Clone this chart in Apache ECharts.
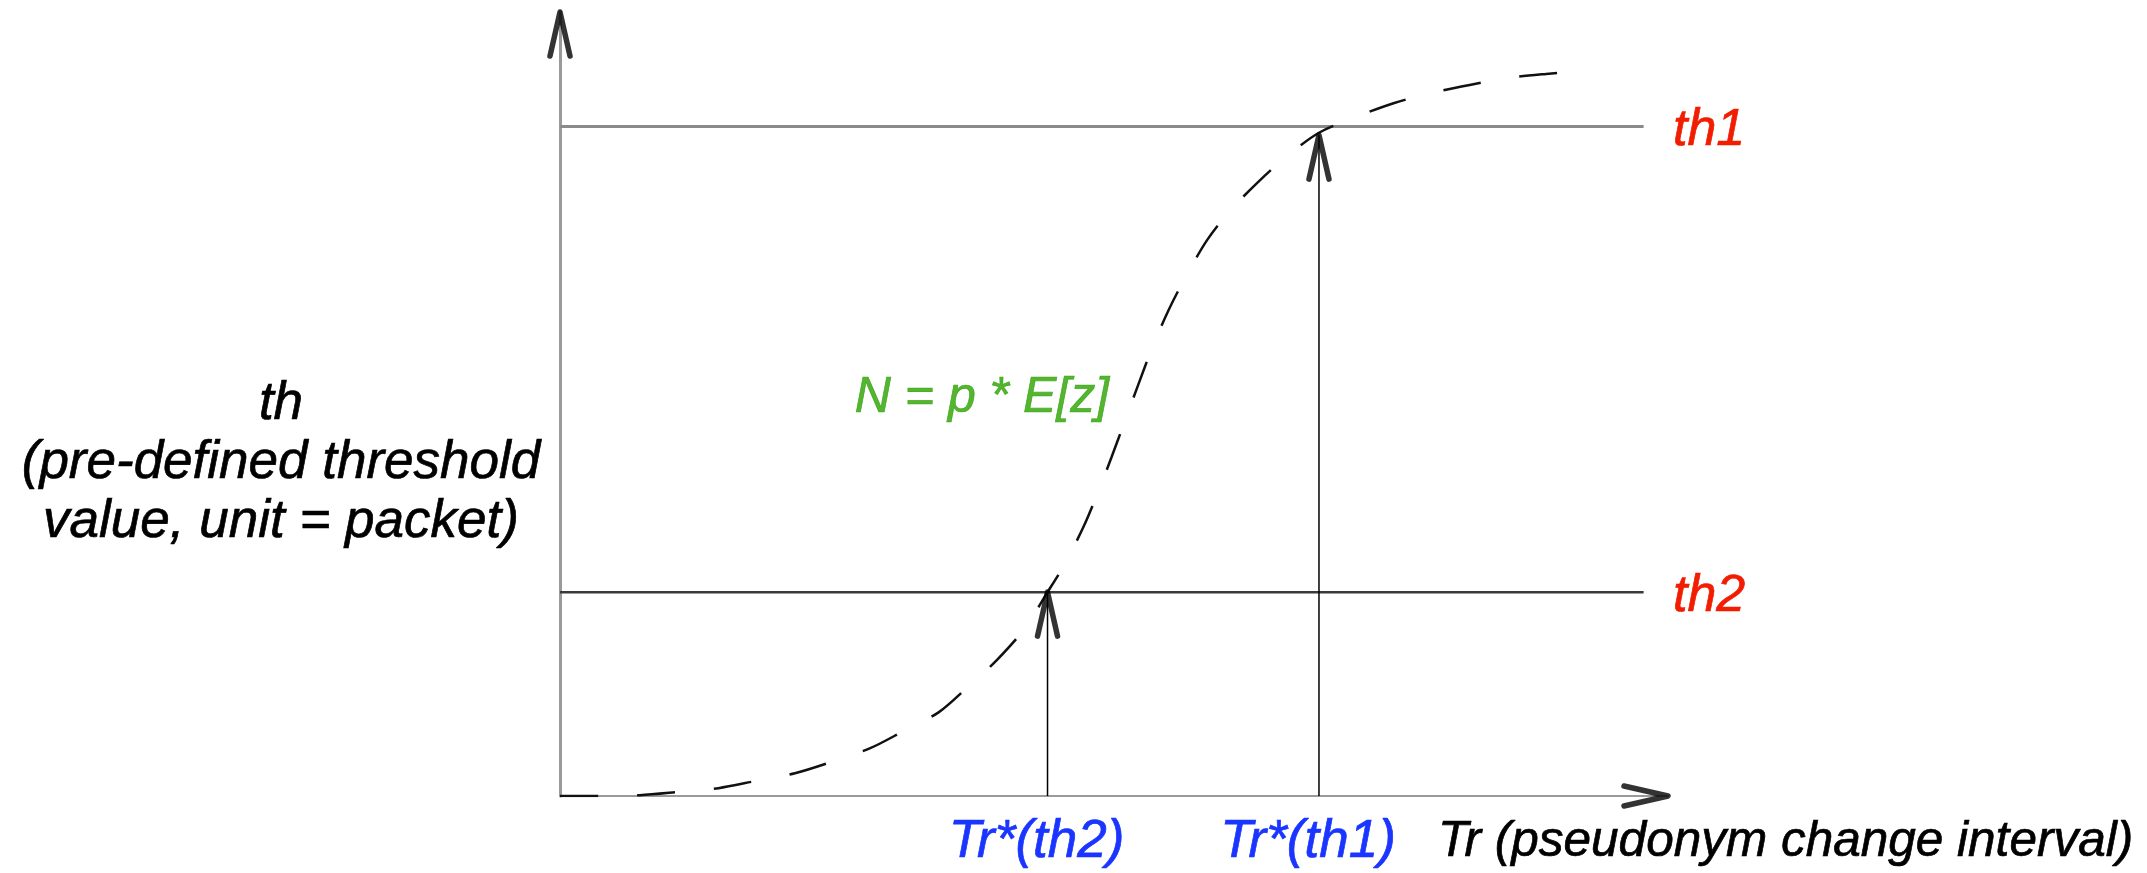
<!DOCTYPE html>
<html>
<head>
<meta charset="utf-8">
<script src="https://cdn.jsdelivr.net/npm/echarts@6/dist/echarts.min.js"></script>
<style>
  html, body { margin: 0; padding: 0; background: #ffffff; }
  #chart { width: 2147px; height: 873px; }
</style>
</head>
<body>
<div id="chart"></div>
<script>
// Axis extents (Tr horizontally, th vertically), arbitrary units
const trMax = 100;
const thMax = 100;

// Pre-defined thresholds
const thresholdNames = ['th2', 'th1'];
const thresholdValues = [26.0, 85.4];
const thresholdSpan = [0, 97.8];

// Tr values at which N reaches each threshold, and where their arrows stop
const crossingNames = ['Tr*(th2)', 'Tr*(th1)'];
const crossingTr = [44.0, 68.5];
const crossingTipTh = [26.0, 84.3];

// N = p * E[z] versus Tr
const curveTr = [0, 3.6, 7.2, 10.6, 14.3, 17.6, 21.2, 24.4, 28.0, 30.9, 34.2, 36.8, 39.4, 41.9,
  44.0, 45.6, 47.3, 48.6, 49.8, 51.0, 52.2, 53.4, 54.9, 56.5, 58.4, 60.5, 63.0, 65.6, 68.5,
  71.8, 75.3, 78.7, 82.1, 85.6, 89.0, 92.6];
const curveN = [0, 0.0, 0.1, 0.5, 1.0, 1.9, 2.9, 4.3, 6.1, 8.2, 10.7, 13.9, 17.3, 21.3,
  26.0, 29.7, 34.5, 38.9, 43.3, 47.9, 52.5, 57.0, 61.9, 66.3, 70.9, 74.7, 78.3, 81.6, 84.6,
  86.6, 88.4, 89.7, 90.7, 91.6, 92.1, 92.5];

// Where the curve's name is written
const formulaText = 'N = p * E[z]';
const formulaAnchor = [49.6, 50.8];

const FONT = "'Liberation Sans', Arial, Helvetica, sans-serif";
const UP_CHEVRON = 'path://M0,44 L10,0 L20,44';
const RIGHT_CHEVRON = 'path://M0,0 L44,10 L0,20';

// Italic text with a hairline outline in its own colour for a slightly heavier stroke
function italic(color, size, extra) {
  return Object.assign({
    color: color,
    fontFamily: FONT,
    fontStyle: 'italic',
    fontSize: size,
    textBorderColor: color,
    textBorderWidth: 0.7
  }, extra || {});
}

const thresholdStyle = {
  th1: { color: '#8a8a8a', width: 3 },
  th2: { color: '#3a3a3a', width: 2.5 }
};

const series = [];

// Horizontal threshold lines
thresholdNames.forEach(function (name, i) {
  series.push({
    type: 'line',
    name: name,
    data: thresholdSpan.map(function (x) { return [x, thresholdValues[i]]; }),
    symbol: 'none',
    silent: true,
    lineStyle: { color: thresholdStyle[name].color, width: thresholdStyle[name].width, type: 'solid' },
    z: 2
  });
});

// Arrow shafts from the Tr axis up to each threshold
crossingNames.forEach(function (name, i) {
  series.push({
    type: 'line',
    name: name,
    data: [[crossingTr[i], 0], [crossingTr[i], crossingTipTh[i]]],
    symbol: 'none',
    silent: true,
    lineStyle: { color: '#000000', width: 1.5 },
    z: 3
  });
});

// The dashed N curve
series.push({
  type: 'line',
  name: formulaText,
  data: curveTr.map(function (x, i) { return [x, curveN[i]]; }),
  symbol: 'none',
  smooth: 0.3,
  silent: true,
  lineStyle: { color: '#111111', width: 2.5, type: [38, 39], cap: 'butt' },
  z: 4
});

// Open arrowheads pointing up: top of the th axis and the two crossing arrows
const chevronStyle = {
  color: 'rgba(0,0,0,0)',
  borderColor: '#000000',
  borderWidth: 5.5,
  borderCap: 'round',
  borderJoin: 'round'
};
series.push({
  type: 'scatter',
  data: [[0, thMax]].concat(crossingTr.map(function (x, i) { return [x, crossingTipTh[i]]; })),
  symbol: UP_CHEVRON,
  symbolSize: 44,
  symbolKeepAspect: true,
  symbolOffset: [0, 22],
  itemStyle: chevronStyle,
  clip: false,
  silent: true,
  z: 6
});
// Open arrowhead at the end of the Tr axis
series.push({
  type: 'scatter',
  data: [[trMax, 0]],
  symbol: RIGHT_CHEVRON,
  symbolSize: 44,
  symbolKeepAspect: true,
  symbolOffset: [-22, 0],
  itemStyle: chevronStyle,
  clip: false,
  silent: true,
  z: 6
});

// Formula label next to the curve
series.push({
  type: 'scatter',
  data: [formulaAnchor],
  symbolSize: 1,
  itemStyle: { color: 'rgba(0,0,0,0)' },
  clip: false,
  silent: true,
  label: italic('#2aa300', 50, {
    show: true,
    position: 'left',
    distance: 0,
    formatter: formulaText
  }),
  z: 7
});

const chart = echarts.init(document.getElementById('chart'), null, { renderer: 'canvas' });
chart.setOption({
  animation: false,
  backgroundColor: '#ffffff',
  grid: { left: 560, right: 479, top: 12, bottom: 77, containLabel: false, outerBoundsMode: 'none' },
  xAxis: {
    type: 'value',
    min: 0,
    max: trMax,
    axisLine: { show: true, onZero: false, lineStyle: { color: '#9a9a9a', width: 2 } },
    axisTick: { show: false },
    splitLine: { show: false },
    axisLabel: italic('#1a35ff', 53, {
      show: true,
      customValues: crossingTr,
      formatter: function (v) {
        const i = crossingTr.indexOf(v);
        return i >= 0 ? crossingNames[i] : '';
      },
      margin: 21,
      lineHeight: 51,
      padding: [0, 22, 0, 0]
    }),
    name: 'Tr (pseudonym change interval)',
    nameLocation: 'end',
    nameGap: -230,
    nameTextStyle: italic('#000000', 49.5, {
      align: 'left',
      verticalAlign: 'top',
      padding: [22, 0, 0, 0],
      lineHeight: 49
    })
  },
  yAxis: [
    {
      type: 'value',
      min: 0,
      max: thMax,
      position: 'left',
      axisLine: { show: true, onZero: false, lineStyle: { color: '#9a9a9a', width: 3 } },
      axisTick: { show: false },
      axisLabel: { show: false },
      splitLine: { show: false },
      // two empty leading lines push the three text lines below the axis midpoint
      name: '\n\nth\n(pre-defined threshold\nvalue, unit = packet)',
      nameLocation: 'middle',
      nameRotate: 0,
      nameGap: 279,
      nameTextStyle: italic('#000000', 53, {
        align: 'center',
        verticalAlign: 'middle',
        lineHeight: 59
      })
    },
    {
      type: 'value',
      min: 0,
      max: thMax,
      position: 'right',
      axisLine: { show: false, onZero: false },
      axisTick: { show: false },
      splitLine: { show: false },
      axisLabel: italic('#f21d00', 52, {
        show: true,
        customValues: thresholdValues,
        formatter: function (v) {
          const i = thresholdValues.indexOf(v);
          return i >= 0 ? thresholdNames[i] : '';
        },
        margin: 5,
        verticalAlign: 'top',
        lineHeight: 8
      })
    }
  ],
  series: series
});
</script>
</body>
</html>
